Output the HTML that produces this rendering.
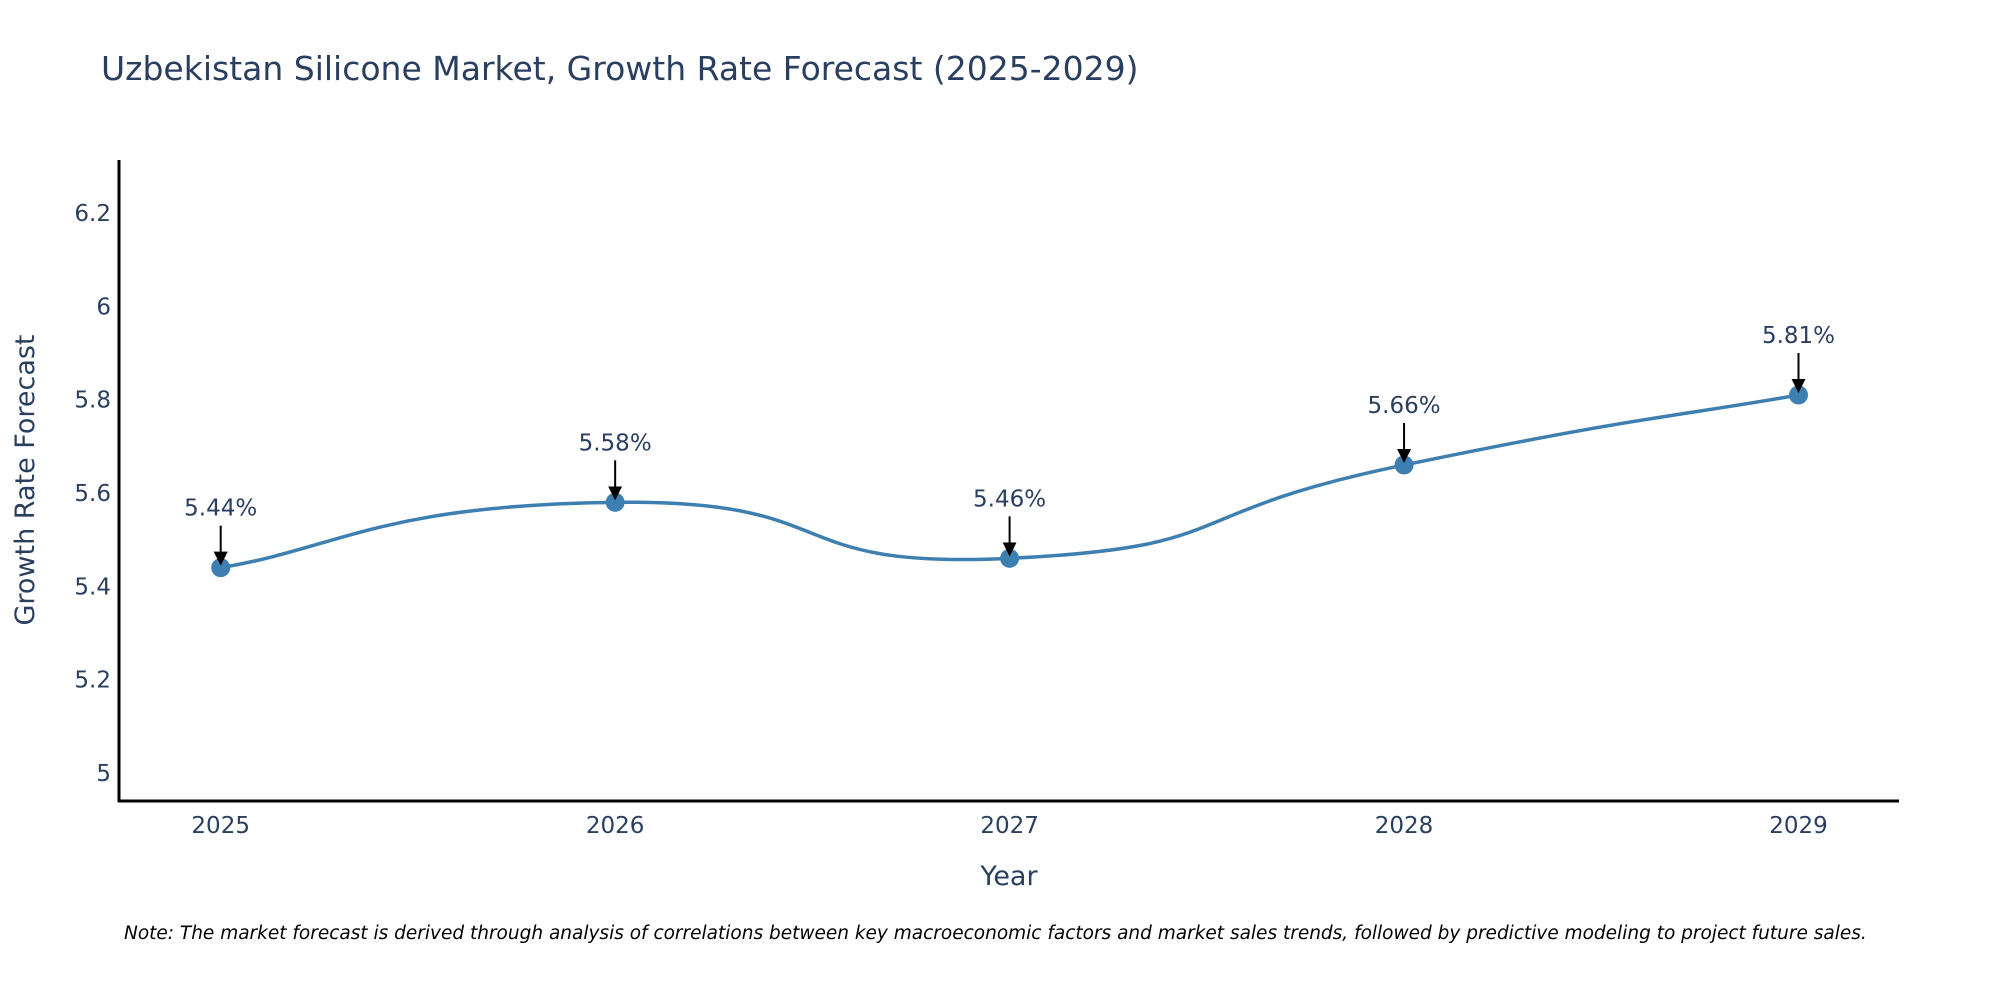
<!DOCTYPE html>
<html><head><meta charset="utf-8"><style>
html,body{margin:0;padding:0;background:#fff;}
svg{display:block;font-family:"DejaVu Sans","Liberation Sans",sans-serif;}
</style></head><body>
<svg id="chart" width="2000" height="1000" viewBox="0 0 2000 1000">
<text x="101" y="80" font-size="33" fill="#2a3f5f">Uzbekistan Silicone Market, Growth Rate Forecast (2025-2029)</text>
<g id="yticks"></g>
<g id="xticks"></g>
<line x1="119" y1="160" x2="119" y2="802" stroke="#000" stroke-width="3"/>
<line x1="118" y1="801" x2="1899" y2="801" stroke="#000" stroke-width="3"/>
<text x="0" y="0" transform="translate(34,480) rotate(-90)" text-anchor="middle" font-size="27" fill="#2a3f5f">Growth Rate Forecast</text>
<text x="1009" y="885" text-anchor="middle" font-size="27" fill="#2a3f5f">Year</text>
<g id="series"></g>
<g id="annots"></g>
<text x="124" y="939" font-size="18.5" font-style="italic" fill="#000">Note: The market forecast is derived through analysis of correlations between key macroeconomic factors and market sales trends, followed by predictive modeling to project future sales.</text>
<defs><marker id="ah" markerWidth="14" markerHeight="14" refX="12" refY="7" orient="auto" markerUnits="userSpaceOnUse" viewBox="0 0 14 14"><path d="M0,0 L14,7 L0,14 z" fill="#000"/></marker></defs>
</svg>
<script>
const years = [2025, 2026, 2027, 2028, 2029];
const growth = [5.44, 5.58, 5.46, 5.66, 5.81];
const yTickValues = [5, 5.2, 5.4, 5.6, 5.8, 6, 6.2];
const yTickLabels = ["5", "5.2", "5.4", "5.6", "5.8", "6", "6.2"];
const pointLabels = ["5.44%", "5.58%", "5.46%", "5.66%", "5.81%"];

const NS = "http://www.w3.org/2000/svg";
function X(v){ return 220.7 + (v - 2025) * (1798.5 - 220.7) / 4; }
function Y(v){ return 773 - (v - 5) * (773 - 213) / 1.2; }
function mk(tag, attrs, parent){ const e = document.createElementNS(NS, tag); for (const k in attrs) e.setAttribute(k, attrs[k]); parent.appendChild(e); return e; }

const yt = document.getElementById('yticks');
yTickValues.forEach((v, i) => {
  const t = mk('text', {x: 111, y: Y(v) + 8, 'text-anchor': 'end', 'font-size': 23, fill: '#2a3f5f'}, yt);
  
  
  t.textContent = yTickLabels[i];
});
const xt = document.getElementById('xticks');
years.forEach(yr => {
  const t = mk('text', {x: X(yr), y: 833, 'text-anchor': 'middle', 'font-size': 23, fill: '#2a3f5f'}, xt);
  
  
  t.textContent = String(yr);
});

const pts = years.map((yr, i) => [X(yr), Y(growth[i])]);
let d = 'M' + pts[0][0] + ',' + pts[0][1];
const s = 0.6;
for (let i = 0; i < pts.length - 1; i++) {
  const p0 = pts[Math.max(0, i - 1)], p1 = pts[i], p2 = pts[i + 1], p3 = pts[Math.min(pts.length - 1, i + 2)];
  const c1 = [p1[0] + (p2[0] - p0[0]) * s / 2, p1[1] + (p2[1] - p0[1]) * s / 2];
  const c2 = [p2[0] - (p3[0] - p1[0]) * s / 2, p2[1] - (p3[1] - p1[1]) * s / 2];
  d += ' C' + c1[0] + ',' + c1[1] + ' ' + c2[0] + ',' + c2[1] + ' ' + p2[0] + ',' + p2[1];
}
const ser = document.getElementById('series');
const line = mk('path', {d: d, fill: 'none', stroke: '#3d7fb0', 'stroke-width': 3.5}, ser);


pts.forEach(p => {
  const c = mk('circle', {cx: p[0], cy: p[1], r: 9.5, fill: '#3d7fb0'}, ser);
  
  
});
const an = document.getElementById('annots');
pts.forEach((p, i) => {
  const l = mk('line', {x1: p[0], y1: p[1] - 42, x2: p[0], y2: p[1] - 4, stroke: '#000', 'stroke-width': 2, 'marker-end': 'url(#ah)'}, an);
  
  
  const t = mk('text', {x: p[0], y: p[1] - 52, 'text-anchor': 'middle', 'font-size': 23, fill: '#2a3f5f'}, an);
  
  
  t.textContent = pointLabels[i];
});
</script>
</body></html>
